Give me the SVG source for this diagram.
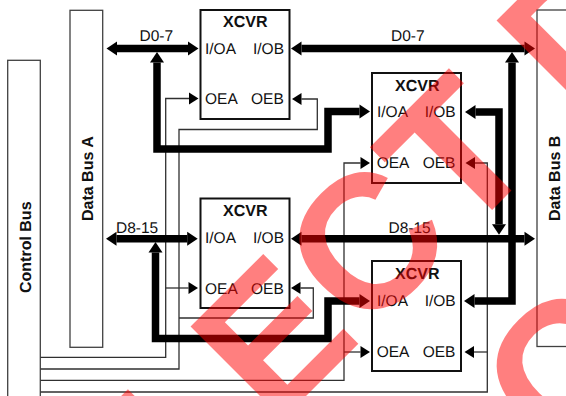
<svg xmlns="http://www.w3.org/2000/svg" width="566" height="396" viewBox="0 0 566 396">
<style>
text{font-family:"Liberation Sans",Arial,sans-serif;fill:#111;text-rendering:geometricPrecision}
.l{font-size:15.5px}
.b{font-size:16px;font-weight:bold}
.bus{fill:#fff;stroke:#404040;stroke-width:1.3}
.x{fill:#fff;stroke:#111;stroke-width:2}
.thin{fill:none;stroke:#303030;stroke-width:1.3}
.thick{fill:none;stroke:#000;stroke-width:7.5;stroke-linejoin:miter}
.h1{marker-start:url(#big);marker-end:url(#big)}
.e1{marker-end:url(#big)}
.s1{marker-start:url(#big)}
.e2{marker-end:url(#small)}
text.wm{font-family:"Liberation Sans",Arial,sans-serif;font-weight:bold;font-size:190px;fill:#f00;fill-opacity:.5}
</style>
<defs>
<marker id="big" markerUnits="userSpaceOnUse" markerWidth="12" markerHeight="16" refX="0" refY="7" orient="auto-start-reverse" overflow="visible"><path d="M0,0L10.5,7L0,14z" fill="#000"/></marker>
<marker id="small" markerUnits="userSpaceOnUse" markerWidth="10" markerHeight="14" refX="0" refY="6" orient="auto" overflow="visible"><path d="M0,0L9.5,6L0,12z" fill="#000"/></marker>
</defs>
<g id="control-bus"><rect class="bus" x="7.7" y="60.3" width="32.6" height="360"/><text class="b" transform="translate(31,293) rotate(-90)">Control Bus</text></g>
<g id="data-bus-a"><rect class="bus" x="70" y="10.3" width="32.7" height="337"/><text class="b" transform="translate(93,221) rotate(-90)">Data Bus A</text></g>
<g id="data-bus-b"><rect class="bus" x="537" y="10" width="60" height="336.5"/><text class="b" transform="translate(560,221) rotate(-90)">Data Bus B</text></g>
<g id="connectors">
<path class="thin e2" d="M40.5,357.3H165.7V98.5H189"/>
<path class="thin e2" d="M40.5,369H179V129.5H317.3V99H301.5"/>
<path class="thin e2" d="M40.5,380.3H344V163H360.5"/>
<path class="thin e2" d="M344,352H360.5"/>
<path class="thin e2" d="M40.5,392H487.3V163H475"/>
<path class="thin e2" d="M487.3,352H474"/>
<path class="thin e2" d="M165.7,288H188.5"/>
<path class="thin e2" d="M179,318H313.3V288H300.5"/>
<path class="thick h1" d="M117,48.5H188"/>
<path class="thick h1" d="M301.5,48.5H524.5"/>
<path class="thick h1" d="M116.5,238.7H187.2"/>
<path class="thick h1" d="M301.5,238.7H524.5"/>
<path class="thick e1 s1" d="M157,62.5V149H328V111.5H359.5"/>
<path class="thick e1 s1" d="M155.5,252.5V338.5H328V301H359.5"/>
<path class="thick e1 s1" d="M475.5,112H499V224.2"/>
<path class="thick e1 s1" d="M474.5,301H512V62.5"/>
</g>
<g id="xcvr-1"><rect class="x" x="200.5" y="10" width="89" height="109"/><text class="b" x="223" y="27">XCVR</text><text class="l" x="205" y="54">I/OA</text><text class="l" x="253" y="54">I/OB</text><text class="l" x="205" y="104">OEA</text><text class="l" x="251" y="104">OEB</text></g>
<g id="xcvr-2"><rect class="x" x="372" y="73" width="89" height="110"/><text class="b" x="395" y="91">XCVR</text><text class="l" x="377" y="117">I/OA</text><text class="l" x="424.7" y="117">I/OB</text><text class="l" x="376.7" y="168">OEA</text><text class="l" x="422.7" y="168">OEB</text></g>
<g id="xcvr-3"><rect class="x" x="200.5" y="198.5" width="89" height="109.5"/><text class="b" x="223" y="216">XCVR</text><text class="l" x="205" y="243">I/OA</text><text class="l" x="253" y="243">I/OB</text><text class="l" x="205" y="294">OEA</text><text class="l" x="251" y="294">OEB</text></g>
<g id="xcvr-4"><rect class="x" x="372" y="261" width="89" height="110"/><text class="b" x="395" y="279">XCVR</text><text class="l" x="377" y="306">I/OA</text><text class="l" x="424.7" y="306">I/OB</text><text class="l" x="376.7" y="357">OEA</text><text class="l" x="422.7" y="357">OEB</text></g>
<g id="labels"><text class="l" x="139.5" y="41">D0-7</text><text class="l" x="391" y="41">D0-7</text><text class="l" x="116" y="233">D8-15</text><text class="l" x="388.5" y="233">D8-15</text></g>
<g id="watermark"><text class="wm" transform="translate(192,510) rotate(-45)" xml:space="preserve">LECT D</text><text class="wm" transform="translate(561,465) rotate(-45)">C</text></g>
</svg>
